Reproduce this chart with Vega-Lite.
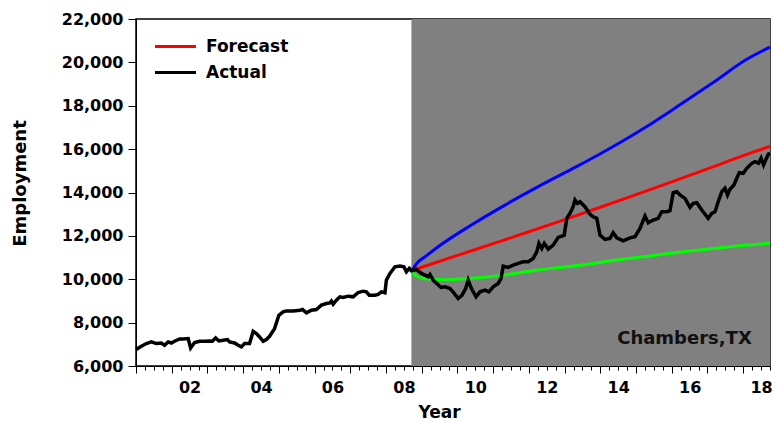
{
  "$schema": "https://vega.github.io/schema/vega-lite/v6.json",
  "width": 634,
  "height": 347,
  "autosize": {"type": "none"},
  "padding": {"left": 136, "top": 19, "right": 4, "bottom": 56},
  "background": "white",
  "config": {"view": {"stroke": "black", "strokeWidth": 1.5}, "font": "DejaVu Sans"},
  "datasets": {
    "actual": [
      {"t":2001.00,"v":6757,"s":"Actual"},{"t":2001.15,"v":6910,"s":"Actual"},{"t":2001.29,"v":7035,"s":"Actual"},{"t":2001.43,"v":7110,"s":"Actual"},
      {"t":2001.57,"v":7035,"s":"Actual"},{"t":2001.71,"v":7060,"s":"Actual"},{"t":2001.80,"v":6955,"s":"Actual"},{"t":2001.90,"v":7110,"s":"Actual"},
      {"t":2001.99,"v":7060,"s":"Actual"},{"t":2002.08,"v":7140,"s":"Actual"},{"t":2002.22,"v":7250,"s":"Actual"},{"t":2002.32,"v":7250,"s":"Actual"},
      {"t":2002.46,"v":7265,"s":"Actual"},{"t":2002.53,"v":6830,"s":"Actual"},{"t":2002.64,"v":7080,"s":"Actual"},{"t":2002.78,"v":7140,"s":"Actual"},
      {"t":2002.92,"v":7140,"s":"Actual"},{"t":2003.06,"v":7155,"s":"Actual"},{"t":2003.14,"v":7140,"s":"Actual"},{"t":2003.23,"v":7295,"s":"Actual"},
      {"t":2003.32,"v":7155,"s":"Actual"},{"t":2003.44,"v":7185,"s":"Actual"},{"t":2003.56,"v":7220,"s":"Actual"},{"t":2003.62,"v":7110,"s":"Actual"},
      {"t":2003.76,"v":7060,"s":"Actual"},{"t":2003.86,"v":6955,"s":"Actual"},{"t":2003.95,"v":6880,"s":"Actual"},{"t":2004.04,"v":7035,"s":"Actual"},
      {"t":2004.18,"v":7035,"s":"Actual"},{"t":2004.28,"v":7600,"s":"Actual"},{"t":2004.37,"v":7495,"s":"Actual"},{"t":2004.46,"v":7340,"s":"Actual"},
      {"t":2004.56,"v":7140,"s":"Actual"},{"t":2004.65,"v":7220,"s":"Actual"},{"t":2004.74,"v":7370,"s":"Actual"},{"t":2004.88,"v":7725,"s":"Actual"},
      {"t":2005.00,"v":8340,"s":"Actual"},{"t":2005.12,"v":8495,"s":"Actual"},{"t":2005.21,"v":8540,"s":"Actual"},{"t":2005.40,"v":8540,"s":"Actual"},
      {"t":2005.59,"v":8575,"s":"Actual"},{"t":2005.66,"v":8605,"s":"Actual"},{"t":2005.77,"v":8450,"s":"Actual"},{"t":2005.91,"v":8575,"s":"Actual"},
      {"t":2006.05,"v":8605,"s":"Actual"},{"t":2006.19,"v":8805,"s":"Actual"},{"t":2006.33,"v":8880,"s":"Actual"},{"t":2006.43,"v":8910,"s":"Actual"},
      {"t":2006.47,"v":8990,"s":"Actual"},{"t":2006.52,"v":8850,"s":"Actual"},{"t":2006.61,"v":9035,"s":"Actual"},{"t":2006.71,"v":9190,"s":"Actual"},
      {"t":2006.80,"v":9160,"s":"Actual"},{"t":2006.94,"v":9220,"s":"Actual"},{"t":2007.08,"v":9190,"s":"Actual"},{"t":2007.22,"v":9390,"s":"Actual"},
      {"t":2007.36,"v":9450,"s":"Actual"},{"t":2007.45,"v":9420,"s":"Actual"},{"t":2007.53,"v":9265,"s":"Actual"},{"t":2007.69,"v":9265,"s":"Actual"},
      {"t":2007.78,"v":9300,"s":"Actual"},{"t":2007.87,"v":9420,"s":"Actual"},{"t":2007.97,"v":9375,"s":"Actual"},{"t":2008.01,"v":9960,"s":"Actual"},
      {"t":2008.11,"v":10270,"s":"Actual"},{"t":2008.25,"v":10575,"s":"Actual"},{"t":2008.39,"v":10605,"s":"Actual"},{"t":2008.50,"v":10575,"s":"Actual"},
      {"t":2008.57,"v":10340,"s":"Actual"},{"t":2008.65,"v":10500,"s":"Actual"},{"t":2008.71,"v":10390,"s":"Actual"},{"t":2008.85,"v":10450,"s":"Actual"},
      {"t":2008.99,"v":10270,"s":"Actual"},{"t":2009.09,"v":10190,"s":"Actual"},{"t":2009.18,"v":10110,"s":"Actual"},{"t":2009.23,"v":10220,"s":"Actual"},
      {"t":2009.32,"v":9960,"s":"Actual"},{"t":2009.42,"v":9805,"s":"Actual"},{"t":2009.54,"v":9620,"s":"Actual"},{"t":2009.65,"v":9650,"s":"Actual"},
      {"t":2009.79,"v":9575,"s":"Actual"},{"t":2009.91,"v":9345,"s":"Actual"},{"t":2010.02,"v":9110,"s":"Actual"},{"t":2010.13,"v":9265,"s":"Actual"},
      {"t":2010.23,"v":9575,"s":"Actual"},{"t":2010.30,"v":9960,"s":"Actual"},{"t":2010.39,"v":9575,"s":"Actual"},{"t":2010.52,"v":9190,"s":"Actual"},
      {"t":2010.63,"v":9420,"s":"Actual"},{"t":2010.77,"v":9500,"s":"Actual"},{"t":2010.88,"v":9420,"s":"Actual"},{"t":2011.00,"v":9650,"s":"Actual"},
      {"t":2011.14,"v":9805,"s":"Actual"},{"t":2011.22,"v":10035,"s":"Actual"},{"t":2011.28,"v":10605,"s":"Actual"},{"t":2011.42,"v":10545,"s":"Actual"},
      {"t":2011.56,"v":10650,"s":"Actual"},{"t":2011.70,"v":10730,"s":"Actual"},{"t":2011.84,"v":10805,"s":"Actual"},{"t":2011.98,"v":10805,"s":"Actual"},
      {"t":2012.12,"v":10960,"s":"Actual"},{"t":2012.22,"v":11265,"s":"Actual"},{"t":2012.28,"v":11655,"s":"Actual"},{"t":2012.36,"v":11420,"s":"Actual"},
      {"t":2012.43,"v":11655,"s":"Actual"},{"t":2012.54,"v":11390,"s":"Actual"},{"t":2012.68,"v":11575,"s":"Actual"},{"t":2012.82,"v":11930,"s":"Actual"},
      {"t":2012.92,"v":11990,"s":"Actual"},{"t":2012.99,"v":12035,"s":"Actual"},{"t":2013.06,"v":12810,"s":"Actual"},{"t":2013.15,"v":13040,"s":"Actual"},
      {"t":2013.24,"v":13345,"s":"Actual"},{"t":2013.29,"v":13655,"s":"Actual"},{"t":2013.36,"v":13500,"s":"Actual"},{"t":2013.43,"v":13575,"s":"Actual"},
      {"t":2013.57,"v":13345,"s":"Actual"},{"t":2013.71,"v":13000,"s":"Actual"},{"t":2013.80,"v":12880,"s":"Actual"},{"t":2013.90,"v":12810,"s":"Actual"},
      {"t":2013.99,"v":12035,"s":"Actual"},{"t":2014.13,"v":11840,"s":"Actual"},{"t":2014.27,"v":11885,"s":"Actual"},{"t":2014.36,"v":12145,"s":"Actual"},
      {"t":2014.46,"v":11910,"s":"Actual"},{"t":2014.64,"v":11775,"s":"Actual"},{"t":2014.83,"v":11910,"s":"Actual"},{"t":2014.97,"v":11960,"s":"Actual"},
      {"t":2015.11,"v":12345,"s":"Actual"},{"t":2015.25,"v":12915,"s":"Actual"},{"t":2015.34,"v":12605,"s":"Actual"},{"t":2015.48,"v":12730,"s":"Actual"},
      {"t":2015.62,"v":12810,"s":"Actual"},{"t":2015.72,"v":13115,"s":"Actual"},{"t":2015.86,"v":13115,"s":"Actual"},{"t":2015.95,"v":13160,"s":"Actual"},
      {"t":2016.04,"v":13990,"s":"Actual"},{"t":2016.14,"v":14035,"s":"Actual"},{"t":2016.23,"v":13885,"s":"Actual"},{"t":2016.37,"v":13730,"s":"Actual"},
      {"t":2016.51,"v":13315,"s":"Actual"},{"t":2016.60,"v":13500,"s":"Actual"},{"t":2016.70,"v":13530,"s":"Actual"},{"t":2016.84,"v":13190,"s":"Actual"},
      {"t":2017.02,"v":12810,"s":"Actual"},{"t":2017.12,"v":13040,"s":"Actual"},{"t":2017.21,"v":13115,"s":"Actual"},{"t":2017.30,"v":13575,"s":"Actual"},
      {"t":2017.40,"v":14035,"s":"Actual"},{"t":2017.49,"v":14195,"s":"Actual"},{"t":2017.56,"v":13885,"s":"Actual"},{"t":2017.63,"v":14150,"s":"Actual"},
      {"t":2017.74,"v":14345,"s":"Actual"},{"t":2017.82,"v":14655,"s":"Actual"},{"t":2017.89,"v":14915,"s":"Actual"},{"t":2018.00,"v":14885,"s":"Actual"},
      {"t":2018.10,"v":15115,"s":"Actual"},{"t":2018.19,"v":15270,"s":"Actual"},{"t":2018.27,"v":15375,"s":"Actual"},{"t":2018.33,"v":15420,"s":"Actual"},
      {"t":2018.43,"v":15350,"s":"Actual"},{"t":2018.50,"v":15580,"s":"Actual"},{"t":2018.57,"v":15270,"s":"Actual"},{"t":2018.65,"v":15580,"s":"Actual"},
      {"t":2018.71,"v":15780,"s":"Actual"},{"t":2018.75,"v":15810,"s":"Actual"}
    ],
    "forecast": [
      {"t":2008.72,"v":10400,"s":"Forecast"},{"t":2010.0,"v":11100,"s":"Forecast"},{"t":2011.0,"v":11640,"s":"Forecast"},
      {"t":2012.0,"v":12190,"s":"Forecast"},{"t":2013.0,"v":12750,"s":"Forecast"},{"t":2014.0,"v":13320,"s":"Forecast"},
      {"t":2015.0,"v":13900,"s":"Forecast"},{"t":2016.0,"v":14490,"s":"Forecast"},{"t":2017.0,"v":15090,"s":"Forecast"},
      {"t":2018.0,"v":15700,"s":"Forecast"},{"t":2018.75,"v":16130,"s":"Forecast"}
    ],
    "upper": [
      {"t":2008.72,"v":10420},{"t":2008.76,"v":10500},{"t":2008.9,"v":10800},{"t":2009.09,"v":11035},{"t":2009.46,"v":11500},
      {"t":2010.39,"v":12500},{"t":2011.33,"v":13420},{"t":2012.26,"v":14270},{"t":2013.2,"v":15080},{"t":2013.85,"v":15650},
      {"t":2014.36,"v":16120},{"t":2015.29,"v":17030},{"t":2016.22,"v":18030},{"t":2017.16,"v":19070},{"t":2018.09,"v":20130},
      {"t":2018.75,"v":20700}
    ],
    "lower": [
      {"t":2008.72,"v":10330},{"t":2008.85,"v":10150},{"t":2009.0,"v":10060},{"t":2009.3,"v":10000},{"t":2009.7,"v":9980},
      {"t":2010.3,"v":10030},{"t":2011.3,"v":10190},{"t":2012.2,"v":10420},{"t":2013.0,"v":10570},{"t":2013.8,"v":10730},
      {"t":2014.3,"v":10850},{"t":2015.5,"v":11100},{"t":2016.5,"v":11300},{"t":2017.5,"v":11480},{"t":2018.75,"v":11655}
    ]
  },
  "encoding": {
    "x": {
      "field": "t",
      "type": "quantitative",
      "scale": {"domain": [2001, 2018.75], "nice": false, "zero": false},
      "axis": {
        "title": "Year",
        "values": [2001,2001.25,2001.5,2001.75,2002,2002.25,2002.5,2002.75,2003,2003.25,2003.5,2003.75,2004,2004.25,2004.5,2004.75,2005,2005.25,2005.5,2005.75,2006,2006.25,2006.5,2006.75,2007,2007.25,2007.5,2007.75,2008,2008.25,2008.5,2008.75,2009,2009.25,2009.5,2009.75,2010,2010.25,2010.5,2010.75,2011,2011.25,2011.5,2011.75,2012,2012.25,2012.5,2012.75,2013,2013.25,2013.5,2013.75,2014,2014.25,2014.5,2014.75,2015,2015.25,2015.5,2015.75,2016,2016.25,2016.5,2016.75,2017,2017.25,2017.5,2017.75,2018,2018.25,2018.5,2018.75],
        "tickSize": {"condition": {"test": "datum.value % 1 === 0", "value": 7}, "value": 4},
        "labelExpr": "datum.value % 2 === 0 ? substring(toString(datum.value), 2, 4) : ''",
        "labelOffset": 17.85,
        "labelFlush": false,
        "labelBound": false,
        "labelOverlap": false,
        "labelFont": "DejaVu Sans",
        "labelFontSize": 16,
        "labelFontWeight": "bold",
        "labelColor": "black",
        "labelPadding": 6,
        "tickColor": "black",
        "domainColor": "black",
        "grid": false,
        "zindex": 1,
        "titleFont": "DejaVu Sans",
        "titleFontSize": 17,
        "titleFontWeight": "bold",
        "titleColor": "black",
        "titlePadding": 9,
        "titleX": 303
      }
    }
  },
  "layer": [
    {
      "data": {"values": [{"t": 2008.71, "t2": 2018.75}]},
      "mark": {"type": "rect", "color": "#808080"},
      "encoding": {"x2": {"field": "t2"}}
    },
    {
      "data": {"name": "upper"},
      "mark": {"type": "line", "color": "#0000ff", "strokeWidth": 3, "interpolate": "monotone"},
      "encoding": {
        "y": {"field": "v", "type": "quantitative", "scale": {"domain": [6000, 22000], "nice": false, "zero": false},
          "axis": {"title": "Employment", "values": [6000,8000,10000,12000,14000,16000,18000,20000,22000], "format": ",.0f",
            "tickSize": 8, "labelPadding": 5, "grid": false, "zindex": 1,
            "labelFont": "DejaVu Sans", "labelFontSize": 16, "labelFontWeight": "bold", "labelColor": "black",
            "tickColor": "black", "domainColor": "black",
            "titleFont": "DejaVu Sans", "titleFontSize": 18, "titleFontWeight": "bold", "titleColor": "black",
            "titlePadding": 32, "titleY": 164}}
      }
    },
    {
      "data": {"name": "lower"},
      "mark": {"type": "line", "color": "#00ff00", "strokeWidth": 3, "interpolate": "monotone"},
      "encoding": {"y": {"field": "v", "type": "quantitative"}}
    },
    {
      "data": {"name": "forecast"},
      "mark": {"type": "line", "strokeWidth": 3, "interpolate": "monotone"},
      "encoding": {
        "y": {"field": "v", "type": "quantitative"},
        "color": {"field": "s", "type": "nominal",
          "scale": {"domain": ["Forecast", "Actual"], "range": ["#ff0000", "#000000"]},
          "legend": {"title": null, "orient": "none", "direction": "vertical", "legendX": 31, "legendY": 19,
            "symbolType": "M-4,0H4", "symbolSize": 105, "symbolStrokeWidth": 3,
            "labelFont": "DejaVu Sans", "labelFontSize": 17, "labelFontWeight": "bold", "labelColor": "black",
            "labelOffset": 22, "rowPadding": 8, "padding": 0}}
      }
    },
    {
      "data": {"name": "actual"},
      "mark": {"type": "line", "strokeWidth": 3.5},
      "encoding": {
        "y": {"field": "v", "type": "quantitative"},
        "color": {"field": "s", "type": "nominal"}
      }
    },
    {
      "data": {"values": [{"label": "Chambers,TX", "t": 2018.24, "v": 7035}]},
      "mark": {"type": "text", "align": "right", "baseline": "alphabetic", "font": "DejaVu Sans", "fontSize": 18, "fontWeight": "bold", "color": "#111111"},
      "encoding": {
        "y": {"field": "v", "type": "quantitative"},
        "text": {"field": "label"}
      }
    }
  ]
}
